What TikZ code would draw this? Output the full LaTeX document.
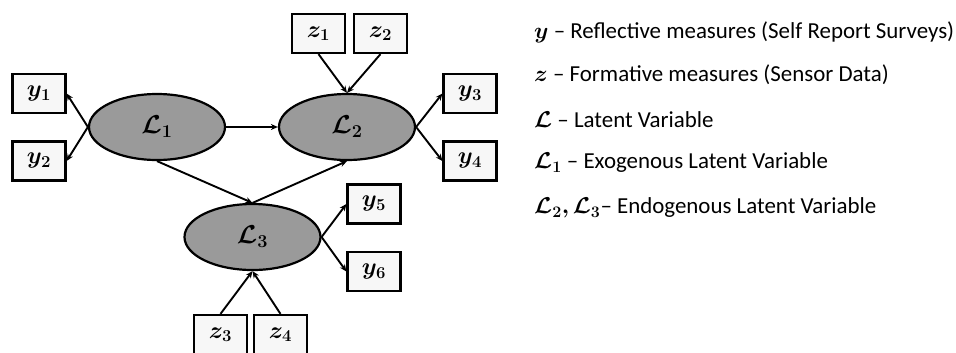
\documentclass[tikz,border=0pt]{standalone}
\usepackage{fix-cm}
\usepackage{fontspec}
\usepackage{bm}
\setmainfont{Carlito}
\usetikzlibrary{arrows.meta,shapes.geometric}
\definecolor{lvfill}{HTML}{9A9A9A}
\definecolor{mvfill}{HTML}{F7F7F7}
\begin{document}
\begin{tikzpicture}[x=1bp,y=-1bp,
  mv/.style={draw, line width=2.2bp, fill=mvfill, minimum width=53bp, minimum height=39bp, inner sep=0pt, font=\fontsize{24}{28}\selectfont},
  lv/.style={draw, ellipse, line width=2.2bp, fill=lvfill, minimum width=136bp, minimum height=66bp, inner sep=0pt, font=\fontsize{26}{30}\selectfont},
  arr/.style={line width=1.9bp, -{Stealth[length=7bp,width=6bp]}},
  legend/.style={anchor=west, inner sep=0pt, font=\fontsize{23}{27}\selectfont}]
\useasboundingbox (0,0) rectangle (956,352);
\node[lv] (L1) at (157,127) {$\bm{\mathcal{L}_1}$};
\node[lv] (L2) at (347,127) {$\bm{\mathcal{L}_2}$};
\node[lv] (L3) at (252.5,237) {$\bm{\mathcal{L}_3}$};
\node[mv] (z1) at (318.5,33.5) {$\bm{z_1}$};
\node[mv] (z2) at (380.5,33.5) {$\bm{z_2}$};
\node[mv] (y1) at (39,93.5) {$\bm{y_1}$};
\node[mv] (y2) at (39,161) {$\bm{y_2}$};
\node[mv] (y3) at (470,93.5) {$\bm{y_3}$};
\node[mv] (y4) at (470,161) {$\bm{y_4}$};
\node[mv] (y5) at (374,204) {$\bm{y_5}$};
\node[mv] (y6) at (374,271.5) {$\bm{y_6}$};
\node[mv] (z3) at (220.5,334.5) {$\bm{z_3}$};
\node[mv] (z4) at (280.5,334.5) {$\bm{z_4}$};
\draw[arr] (L1.west) -- (y1.east);
\draw[arr] (L1.west) -- (y2.east);
\draw[arr] (L1.east) -- (L2.west);
\draw[arr] (L1.south) -- (L3.north);
\draw[arr] (L3.north) -- (L2.south);
\draw[arr] (z1.south) -- (L2.north);
\draw[arr] (z2.south) -- (L2.north);
\draw[arr] (L2.east) -- (y3.west);
\draw[arr] (L2.east) -- (y4.west);
\draw[arr] (L3.east) -- (y5.west);
\draw[arr] (L3.east) -- (y6.west);
\draw[arr] (z3.north) -- (L3.south);
\draw[arr] (z4.north) -- (L3.south);
\node[legend] (t1) at (534,32) {$\bm{y}$ -- Reflective measures (Self Report Surveys)};
\node[legend] (t2) at (534,75) {$\bm{z}$ -- Formative measures (Sensor Data)};
\node[legend] (t3) at (534,120) {$\bm{\mathcal{L}}$ -- Latent Variable};
\node[legend] (t4) at (534,163) {$\bm{\mathcal{L}_1}$ -- Exogenous Latent Variable};
\node[legend] (t5) at (534,208) {$\bm{\mathcal{L}_2,\mathcal{L}_3}$-- Endogenous Latent Variable};
\end{tikzpicture}
\end{document}
